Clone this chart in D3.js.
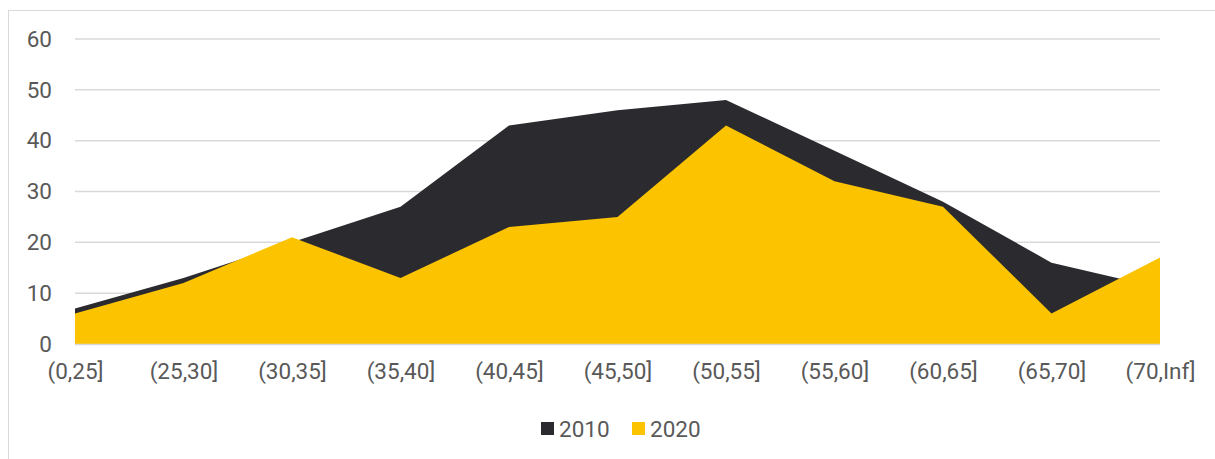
<!DOCTYPE html>
<html>
<head>
<meta charset="utf-8">
<script src="https://cdn.jsdelivr.net/npm/d3@7"></script>
<style>
  body { margin: 0; background: #fff; }
  text { font-family: Roboto, "Noto Sans", sans-serif; fill: #595959; }
</style>
</head>
<body>
<svg id="chart"></svg>
<script>
// data
const categories = ["(0,25]", "(25,30]", "(30,35]", "(35,40]", "(40,45]", "(45,50]",
  "(50,55]", "(55,60]", "(60,65]", "(65,70]", "(70,Inf]"];
const values2010 = [7, 13, 20, 27, 43, 46, 48, 38, 28, 16, 11];
const values2020 = [6, 12, 21, 13, 23, 25, 43, 32, 27, 6, 17];
const yTicks = [0, 10, 20, 30, 40, 50, 60];
const seriesNames = ["2010", "2020"];
const colors = ["#2b2a2f", "#fbc300"];

const W = 1215, H = 459;
const margin = { top: 39, right: 55, bottom: 115, left: 75 };
const width = W - margin.left - margin.right;
const height = H - margin.top - margin.bottom;
const fontSize = "22.5px";

const root = d3.select("#chart").attr("width", W).attr("height", H);

// outer chart border
root.append("rect")
  .attr("x", 8.5).attr("y", 10.5)
  .attr("width", W).attr("height", H)
  .attr("fill", "none").attr("stroke", "#d9d9d9");

const svg = root.append("g")
  .attr("transform", `translate(${margin.left}, ${margin.top})`);

const x = d3.scalePoint()
  .domain(categories)
  .range([0, width])
  .padding(0);

const y = d3.scaleLinear()
  .domain([0, 60])
  .range([height, 0]);

// gridlines
svg.selectAll("line.grid")
  .data(yTicks.filter(d => d > 0))
  .enter().append("line")
  .attr("class", "grid")
  .attr("x1", 0).attr("x2", width)
  .attr("y1", d => y(d)).attr("y2", d => y(d))
  .attr("stroke", "#d9d9d9").attr("stroke-width", 1.5);

const area = d3.area()
  .x((d, i) => x(categories[i]))
  .y0(y(0))
  .y1(d => y(d));

[values2010, values2020].forEach((vals, i) => {
  svg.append("path")
    .datum(vals)
    .attr("d", area)
    .attr("fill", colors[i]);
});

// baseline
svg.append("line")
  .attr("x1", 0).attr("x2", width)
  .attr("y1", y(0) + 0.5).attr("y2", y(0) + 0.5)
  .attr("stroke", "#d9d9d9").attr("stroke-width", 1.5);

// y labels
const yAxis = svg.append("g")
  .call(d3.axisLeft(y).tickValues(yTicks).tickSize(0).tickPadding(23));
yAxis.select(".domain").remove();
yAxis.selectAll("text")
  .style("font-size", fontSize)
  .attr("fill", "#595959");

// x labels
const xAxis = svg.append("g")
  .attr("transform", `translate(0,${height})`)
  .call(d3.axisBottom(x).tickSize(0).tickPadding(19));
xAxis.select(".domain").remove();
xAxis.selectAll("text")
  .style("font-size", fontSize)
  .attr("fill", "#595959");

// legend
const legend = root.append("g");
const legendX = [541, 632];
seriesNames.forEach((name, i) => {
  const g = legend.append("g").attr("transform", `translate(${legendX[i]}, 422)`);
  g.append("rect").attr("width", 13).attr("height", 13).attr("fill", colors[i]);
  g.append("text")
    .attr("x", 18).attr("y", 15)
    .style("font-size", fontSize)
    .text(name);
});
</script>
</body>
</html>
